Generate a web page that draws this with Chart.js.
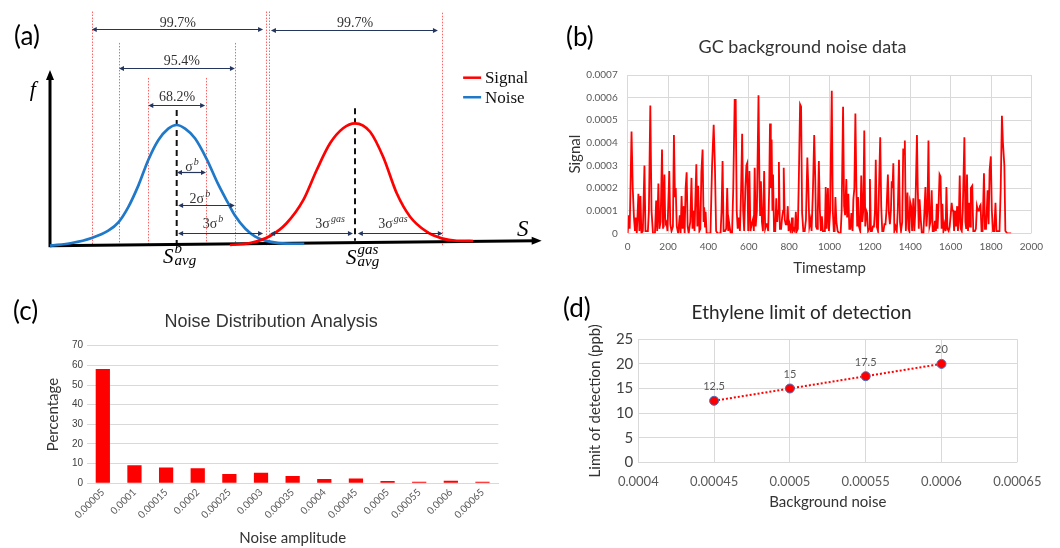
<!DOCTYPE html>
<html><head><meta charset="utf-8">
<script src="https://cdn.jsdelivr.net/npm/chart.js@4.4.1/dist/chart.umd.min.js"></script>
<style>
html,body{margin:0;padding:0;background:#fff;}
#wrap{position:relative;width:1060px;height:548px;overflow:hidden;background:#fff;}
canvas{position:absolute;}
.pl{position:absolute;font-family:Lato,'Liberation Sans',sans-serif;font-size:26px;line-height:26px;color:#000;}
</style></head><body>
<div id="wrap">
<canvas id="ca" width="550" height="280" style="left:0;top:0"></canvas>
<canvas id="cb" width="495" height="262" style="left:555px;top:28px"></canvas>
<canvas id="cc" width="540" height="258" style="left:0;top:290px"></canvas>
<canvas id="cd" width="505" height="258" style="left:561px;top:290px"></canvas>
<div class="pl" style="left:14px;top:22px">(a)</div>
<div class="pl" style="left:566px;top:23px">(b)</div>
<div class="pl" style="left:13px;top:297px">(c)</div>
<div class="pl" style="left:563px;top:294px">(d)</div>
</div>
<script>
// ---------- Panel (a): schematic distributions ----------
const noiseS = [-4.37,-3.62,-2.93,-2.36,-2.01,-1.67,-1.32,-0.98,-0.63,-0.29,0,0.29,0.63,1.03,1.43,1.78,2.01,2.37,2.71,3.06,3.52,4.19,4.4];
const noiseF = [0,0.022,0.064,0.125,0.194,0.32,0.50,0.71,0.875,0.97,1.0,0.97,0.89,0.72,0.51,0.35,0.25,0.14,0.075,0.042,0.022,0.016,0.016];
const signalS = [1.84,2.53,3.22,3.79,4.37,4.83,5.29,5.74,6.15,6.67,7.12,7.59,8.05,8.62,9.14,9.66,10.22];
const signalF = [0.006,0.022,0.08,0.186,0.379,0.627,0.848,0.973,1.014,0.944,0.737,0.434,0.24,0.116,0.061,0.041,0.039];
const meanS = [0, 6.15];
const meanTop = [1.124, 1.138];
const guideS = [-2.93,-1.99,-0.98,1.01,2.01,3.07,3.18,9.14];
const guideTop = [1.94,1.68,1.39,1.39,1.68,1.94,1.94,1.93];
const spanFrom = [-2.93,3.25,-1.99,-0.98,0.01,0.05,0.05,3.22,6.25];
const spanTo   = [2.98,9.01,2.01,0.98,1.01,2.01,2.98,6.08,9.18];
const spanAt   = [1.793,1.787,1.475,1.166,0.608,0.337,0.103,0.103,0.103];
const spanText = ['99.7%','99.7%','95.4%','68.2%','σ','2σ','3σ','3σ','3σ'];
const spanSup  = ['','','','','b','b','b','gas','gas'];
const spanTextS = [0.04,6.15,0.18,0.01,0.53,0.8,1.25,5.29,7.46];
const spanTextF = [1.848,1.848,1.533,1.24,0.66,0.395,0.188,0.19,0.19];
const legendNames = ['Signal','Noise'];

// ---------- Panel (b): GC background noise ----------
const bTimestamp = [
0,5,10,19,25,31,36,40,45,53,
58,63,68,75,83,88,100,105,112,118,
125,135,141,146,152,157,163,170,175,182,
186,192,197,206,211,217,224,229,234,238,
243,250,258,262,267,272,278,282,287,292,
297,302,310,316,321,326,331,340,345,349,
355,360,365,371,376,379,383,386,391,410,
418,426,432,438,445,460,465,470,475,482,
488,493,498,502,506,510,517,523,530,535,
540,545,550,556,562,567,572,577,583,588,
592,597,603,608,614,620,625,629,634,640,
648,653,656,660,665,670,676,681,687,691,
696,701,705,709,713,717,720,725,731,736,
741,745,749,754,760,765,770,773,778,783,
788,793,797,802,808,814,818,823,828,833,
838,843,848,854,859,864,870,877,883,890,
895,900,906,911,918,924,929,933,938,942,
947,952,957,962,967,972,977,981,986,992,
997,1003,1011,1016,1021,1025,1029,1034,1040,1047,
1055,1060,1067,1072,1077,1083,1087,1093,1098,1103,
1108,1114,1118,1123,1128,1133,1137,1141,1146,1152,
1157,1162,1167,1172,1177,1182,1186,1191,1196,1200,
1205,1210,1215,1220,1225,1229,1234,1240,1245,1251,
1256,1261,1267,1272,1277,1282,1289,1294,1299,1304,
1308,1312,1316,1321,1327,1333,1338,1344,1349,1354,
1360,1365,1369,1373,1378,1382,1386,1391,1395,1399,
1404,1409,1415,1420,1425,1433,1437,1442,1446,1452,
1457,1465,1470,1475,1480,1485,1490,1495,1500,1506,
1511,1517,1522,1527,1531,1535,1540,1545,1550,1555,
1559,1564,1570,1575,1579,1584,1590,1595,1600,1605,
1609,1613,1617,1622,1627,1632,1636,1640,1645,1650,
1655,1660,1668,1673,1677,1681,1686,1691,1696,1700,
1707,1712,1720,1725,1730,1735,1740,1745,1748,1753,
1758,1765,1770,1775,1779,1783,1788,1793,1799,1804,
1810,1816,1822,1827,1836,1842,1848,1854,1859,1866,
1871,1880,1900];
const bSignal = [
0,0.00008,0.00002,0.00045,0.0002,0.00007,0.00001,0.00007,0,0.000175,
0.00001,0.000165,0,0.00001,0.0003,0.00001,0.00001,0.0001,0.000565,0.0001,
0,0,0.000145,0.00001,0.00022,0.00002,0.00005,0.00037,0.00002,0.00026,
0.00004,0.00005,0.00001,0.000275,0.00004,0.00001,0.00003,0.000435,0.00016,0.0002,
0.00003,0,0.00008,0,0.000165,0.00002,0.00012,0,0.0002,0.00027,
0.00003,0,0.00005,0.000245,0.00002,0.0001,0.00001,0.000305,0.00003,0.00021,
0.00001,0.00002,0.00027,0.00037,0.00005,0.000115,0.00003,0.000095,0,0,
0.0003,0.00048,0.0003,0.00001,0,0,0.0001,0.00032,0.00001,0.00001,
0.00002,0.0002,0.00001,0.00005,0.00005,0,0,0.0002,0.00059,0.00059,
0.0001,0.00002,0.00007,0.00001,0.0002,0.00044,0.0001,0.00001,0.0002,0.0003,
0.00031,0.00001,0.000275,0.00001,0.00004,0.00006,0.00001,0.00029,0.00003,0.0001,
0.00061,0.0002,0.00008,0.00023,0.00005,0.00001,0.000275,0.00002,0.00004,0.00004,
0.00001,0.0002,0.000485,0.0002,0.000415,0.0001,0.00026,0.00001,0.00001,0.000155,
0.00005,0.0001,0.000315,0.00002,0.00002,0.00007,0.0001,0.00029,0.00006,0.00004,
0.00004,0.00012,0.00001,0.00004,0.00001,0.00007,0.00001,0.00002,0.00001,0.000095,
0.00001,0.00002,0.00025,0.00057,0.00056,0.00009,0.00001,0.00001,0.00006,0.000335,
0.0002,0.00003,0.00006,0.00001,0.0002,0.000435,0.00025,0.00003,0.00002,0.0001,
0.00032,0.0001,0.00001,0.000075,0.00001,0.00001,0.00001,0.000205,0.00002,0.0002,
0.00001,0.0001,0.00063,0.0001,0.00001,0.00001,0.00016,0.00005,0.00001,0,
0,0.0001,0.00056,0.00012,0.00008,0.00024,0.00007,0.000175,0.00002,0.00002,
0.00009,0.00001,0.00015,0.0002,0.00053,0.0002,0.00003,0.00016,0.00003,0.00001,
0.000255,0.00005,0.0001,0.000455,0.00003,0.0001,0.00009,0.00001,0.00002,0.00024,
0.00001,0.00001,0.00003,0.00003,0.0001,0.000325,0.00003,0.00001,0.0002,0.000425,
0.00012,0.00001,0.00001,0.00004,0.00004,0.0001,0.00026,0.00009,0.00004,0.0001,
0.00023,0.0002,0.00031,0.00001,0.00003,0.00001,0.0001,0.000325,0.00005,0.00001,
0.00005,0.000375,0.00035,0.00041,0.00001,0.0001,0.00018,0.00002,0.00001,0.00014,
0.00012,0.00001,0.000155,0.00001,0.0001,0.000435,0.0002,0.00002,0.00015,0.00006,
0,0,0.0001,0.000205,0.00003,0.0001,0.00041,0.00003,0.00005,0.00019,
0.00001,0.00001,0.000055,0.00001,0.00013,0.00002,0.00012,0.00026,0.00025,0.00002,
0.00013,0.00001,0.00004,0.00001,0.000205,0.00002,0.00001,0.00003,0.00008,0.000135,
0.0001,0.0001,0.00001,0.0001,0.00003,0.00012,0.00001,0.00005,0.000255,0.00002,
0.00001,0.0001,0.000425,0.00005,0.00002,0.00026,0.00001,0.000135,0.00003,0.0002,
0.00021,0.00001,0.00001,0.00002,0.00012,0.0001,0.0001,0.00012,0.000125,0.00001,
0.00001,0.000265,0.00002,0.00002,0.0001,0.00019,0.00004,0.00028,0.00034,0.0001,
0.00001,0.00001,0.000135,0.00001,0.00001,0.00001,0.0002,0.00052,0.0004,0.0003,
0.00001,0,0];
const bXTicks = ['0','200','400','600','800','1000','1200','1400','1600','1800','2000'];
const bYTicks = ['0','0.0001','0.0002','0.0003','0.0004','0.0005','0.0006','0.0007'];

// ---------- Panel (c): noise distribution ----------
const cAmplitude = ['0.00005','0.0001','0.00015','0.0002','0.00025','0.0003','0.00035','0.0004','0.00045','0.0005','0.00055','0.0006','0.00065'];
const cPercentage = [58.1,9.2,8.1,7.6,4.7,5.4,3.7,2.2,2.5,1.2,0.85,1.35,0.85];

// ---------- Panel (d): ethylene limit of detection ----------
const dNoise = [0.00045,0.0005,0.00055,0.0006];
const dLOD = [12.5,15,17.5,20];
const dPointLabels = ['12.5','15','17.5','20'];
const dXTicks = ['0.0004','0.00045','0.0005','0.00055','0.0006','0.00065'];

Chart.defaults.animation = false;
Chart.defaults.responsive = false;
Chart.defaults.maintainAspectRatio = false;
Chart.defaults.devicePixelRatio = 1;
Chart.defaults.plugins.legend.display = false;
Chart.defaults.plugins.tooltip.enabled = false;
Chart.defaults.font.family = 'Lato, sans-serif';

const SERIF = '"Liberation Serif", "Times New Roman", serif';
const NAVY = '#24355e';

function arrowHead(ctx, x, y, dir){
  ctx.beginPath();
  ctx.moveTo(x, y);
  ctx.lineTo(x - dir*5, y - 2.6);
  ctx.lineTo(x - dir*5, y + 2.6);
  ctx.closePath();
  ctx.fill();
}
function textSup(ctx, cx, cy, main, sup, size){
  ctx.font = size + 'px ' + SERIF;
  const w1 = ctx.measureText(main).width;
  let w2 = 0;
  const ss = Math.round(size*0.72);
  if (sup){ ctx.font = 'italic ' + ss + 'px ' + SERIF; w2 = ctx.measureText(sup).width + 1; }
  const x0 = cx - (w1 + w2)/2;
  ctx.textAlign = 'left'; ctx.textBaseline = 'alphabetic';
  ctx.font = size + 'px ' + SERIF;
  ctx.fillText(main, x0, cy + size*0.34);
  if (sup){ ctx.font = 'italic ' + ss + 'px ' + SERIF; ctx.fillText(sup, x0 + w1 + 1, cy + size*0.34 - size*0.42); }
}
function mathSym(ctx, xLeft, base, main, sup, sub){
  ctx.textAlign = 'left'; ctx.textBaseline = 'alphabetic';
  ctx.font = 'italic 21px ' + SERIF;
  ctx.fillText(main, xLeft, base);
  const w = ctx.measureText(main).width;
  ctx.font = 'italic 15px ' + SERIF;
  ctx.fillText(sup, xLeft + w + 1, base - 10);
  ctx.fillText(sub, xLeft + w + 1, base + 2);
}

const schematic = {
  id: 'schematic',
  beforeDatasetsDraw(chart){
    const {ctx, scales:{x, y}} = chart;
    const X = v => x.getPixelForValue(v), Y = v => y.getPixelForValue(v);
    ctx.save();
    ctx.strokeStyle = 'rgba(255,70,70,0.85)'; ctx.lineWidth = 1; ctx.setLineDash([1.5,1.5]);
    guideS.forEach((s,i) => { ctx.beginPath(); ctx.moveTo(Math.round(X(s))+0.5, Y(guideTop[i])); ctx.lineTo(Math.round(X(s))+0.5, Y(0)); ctx.stroke(); });
    ctx.strokeStyle = '#111'; ctx.lineWidth = 2; ctx.setLineDash([6,4]);
    meanS.forEach((s,i) => { ctx.beginPath(); ctx.moveTo(X(s), Y(meanTop[i])); ctx.lineTo(X(s), Y(i === 0 ? 0 : 0.04)); ctx.stroke(); });
    ctx.setLineDash([]);
    ctx.strokeStyle = '#000'; ctx.fillStyle = '#000'; ctx.lineWidth = 3;
    const x0 = X(x.min), y0 = Y(0), xe = X(x.max), ye = Y(0.041);
    ctx.beginPath(); ctx.moveTo(x0, y0); ctx.lineTo(xe - 6, ye); ctx.stroke();
    ctx.beginPath(); ctx.moveTo(xe, ye); ctx.lineTo(xe - 10, ye - 4); ctx.lineTo(xe - 10, ye + 4); ctx.closePath(); ctx.fill();
    const yt = Y(1.456);
    ctx.beginPath(); ctx.moveTo(x0, y0 + 1.5); ctx.lineTo(x0, yt + 6); ctx.stroke();
    ctx.beginPath(); ctx.moveTo(x0, yt); ctx.lineTo(x0 - 4, yt + 10); ctx.lineTo(x0 + 4, yt + 10); ctx.closePath(); ctx.fill();
    ctx.restore();
  },
  afterDatasetsDraw(chart){
    const {ctx, scales:{x, y}} = chart;
    const X = v => x.getPixelForValue(v), Y = v => y.getPixelForValue(v);
    ctx.save();
    ctx.strokeStyle = NAVY; ctx.fillStyle = NAVY; ctx.lineWidth = 1.2;
    spanFrom.forEach((s,i) => {
      const a = X(s), b = X(spanTo[i]), yy = Math.round(Y(spanAt[i])) + 0.5;
      ctx.beginPath(); ctx.moveTo(a + 3, yy); ctx.lineTo(b - 3, yy); ctx.stroke();
      arrowHead(ctx, a, yy, -1); arrowHead(ctx, b, yy, 1);
    });
    ctx.fillStyle = '#333';
    spanText.forEach((t,i) => textSup(ctx, X(spanTextS[i]), Y(spanTextF[i]), t, spanSup[i], 14));
    ctx.fillStyle = '#000';
    ctx.font = 'italic 22px ' + SERIF; ctx.textAlign = 'center'; ctx.textBaseline = 'middle';
    ctx.fillText('f', X(-4.96), Y(1.29));
    ctx.font = 'italic 23px ' + SERIF;
    ctx.fillText('S', X(11.94), Y(0.13));
    mathSym(ctx, X(-0.47), Y(-0.143), 'S', 'b', 'avg');
    mathSym(ctx, X(5.84), Y(-0.15), 'S', 'gas', 'avg');
    const cols = ['#ff0000', '#1f78c8'];
    const lf = [1.392, 1.23];
    legendNames.forEach((n,i) => {
      ctx.strokeStyle = cols[i]; ctx.lineWidth = 2.5;
      ctx.beginPath(); ctx.moveTo(X(9.88), Y(lf[i])); ctx.lineTo(X(10.5), Y(lf[i])); ctx.stroke();
      ctx.fillStyle = '#111'; ctx.font = '17px ' + SERIF; ctx.textAlign = 'left'; ctx.textBaseline = 'middle';
      ctx.fillText(n, X(10.63), Y(lf[i]) + 1);
    });
    ctx.restore();
  }
};

new Chart(document.getElementById('ca'), {
  type: 'line',
  data: { datasets: [
    { label: 'Signal', data: signalS.map((s,i) => ({x:s, y:signalF[i]})), borderColor: '#ff0000', borderWidth: 2.7, pointRadius: 0, cubicInterpolationMode: 'monotone', clip: false },
    { label: 'Noise', data: noiseS.map((s,i) => ({x:s, y:noiseF[i]})), borderColor: '#1f78c8', borderWidth: 2.7, pointRadius: 0, cubicInterpolationMode: 'monotone', clip: false }
  ]},
  options: {
    layout: { padding: { left: 50, right: 8.3, top: 4.3, bottom: 34.3 } },
    scales: {
      x: { type: 'linear', display: false, min: -4.37, max: 12.59 },
      y: { type: 'linear', display: false, min: 0, max: 2 }
    }
  },
  plugins: [schematic]
});

// Panel (b)
new Chart(document.getElementById('cb'), {
  type: 'line',
  data: { datasets: [{ data: bTimestamp.map((t,i) => ({x:t, y:bSignal[i]})), borderColor: '#ff0000', borderWidth: 1.8, pointRadius: 0, tension: 0 }] },
  options: {
    layout: { padding: { left: 11, right: 11, top: 0, bottom: 12.7 } },
    plugins: { title: { display: true, text: 'GC background noise data', color: '#333', font: { size: 18, weight: 'normal' }, padding: { top: 8.2, bottom: 17.2 } } },
    scales: {
      x: { type: 'linear', min: 0, max: 2000,
           ticks: { stepSize: 200, autoSkip: false, maxRotation: 0, color: '#595959', font: { size: 10 }, padding: 7, callback: (v,i) => bXTicks[i] },
           grid: { color: '#d9d9d9', drawTicks: false }, border: { display: false },
           title: { display: true, text: 'Timestamp', color: '#333', font: { size: 15 }, padding: 0 },
           afterFit(s){ s.height = 44; } },
      y: { min: 0, max: 0.0007,
           ticks: { stepSize: 0.0001, color: '#595959', font: { size: 10 }, padding: 10, callback: (v,i) => bYTicks[i] },
           grid: { color: '#d9d9d9', drawTicks: false }, border: { display: false },
           title: { display: true, text: 'Signal', color: '#333', font: { size: 15 }, padding: 0 },
           afterFit(s){ s.width = 61.7; } }
    }
  }
});

// Panel (c)
new Chart(document.getElementById('cc'), {
  type: 'bar',
  data: { labels: cAmplitude, datasets: [{ data: cPercentage, backgroundColor: '#ff0000', categoryPercentage: 1, barPercentage: 0.45 }] },
  options: {
    layout: { padding: { left: 44, right: 41.7, top: 0, bottom: 0.7 } },
    plugins: { title: { display: true, text: 'Noise Distribution Analysis', color: '#333', font: { family: '"Liberation Sans", Arial, sans-serif', size: 18, weight: 'normal' }, padding: { top: 20.9, bottom: 13.2 } } },
    scales: {
      x: { ticks: { autoSkip: false, minRotation: 45, maxRotation: 45, color: '#595959', font: { size: 10 }, padding: 3 },
           grid: { display: false, drawTicks: false }, border: { display: true, color: '#d9d9d9' },
           title: { display: true, text: 'Noise amplitude', color: '#333', font: { size: 15 }, padding: 0 },
           afterFit(s){ s.height = 64; } },
      y: { min: 0, max: 70,
           ticks: { stepSize: 10, color: '#404040', font: { family: '"Liberation Sans", Arial, sans-serif', size: 10 }, padding: 4 },
           grid: { color: '#d9d9d9', drawTicks: false }, border: { display: false },
           title: { display: true, text: 'Percentage', color: '#333', font: { size: 15 }, padding: 0 },
           afterFit(s){ s.width = 43; } }
    }
  }
});

// Panel (d)
const pointLabelPlugin = {
  id: 'pointLabels',
  afterDatasetsDraw(chart){
    const {ctx} = chart;
    const meta = chart.getDatasetMeta(0);
    ctx.save();
    ctx.fillStyle = '#595959'; ctx.font = '11px Lato, sans-serif'; ctx.textAlign = 'center'; ctx.textBaseline = 'middle';
    meta.data.forEach((pt,i) => ctx.fillText(dPointLabels[i], pt.x, pt.y - 14));
    ctx.restore();
  }
};
new Chart(document.getElementById('cd'), {
  type: 'line',
  data: { datasets: [{ data: dNoise.map((v,i) => ({x:v, y:dLOD[i]})), borderColor: '#ff0000', borderWidth: 2, borderDash: [2,2],
    pointRadius: 4.5, pointBackgroundColor: '#ff0000', pointBorderColor: '#4472c4', pointBorderWidth: 1, tension: 0 }] },
  options: {
    layout: { padding: { left: 25, right: 48.7, top: 0, bottom: 36.7 } },
    plugins: { title: { display: true, text: 'Ethylene limit of detection', color: '#262626', font: { size: 19, weight: 'normal' }, padding: { top: 11.3, bottom: 15.2 } } },
    scales: {
      x: { type: 'linear', min: 0.0004, max: 0.00065,
           ticks: { stepSize: 0.00005, autoSkip: false, maxRotation: 0, color: '#595959', font: { size: 13 }, padding: 12, callback: (v,i) => dXTicks[i] },
           grid: { color: '#d9d9d9', drawTicks: false }, border: { display: false },
           title: { display: true, text: 'Background noise', color: '#333', font: { size: 15 }, padding: 0 },
           afterFit(s){ s.height = 49; } },
      y: { min: 0, max: 25,
           ticks: { stepSize: 5, color: '#404040', font: { size: 15 }, padding: 5 },
           grid: { color: '#d9d9d9', drawTicks: false }, border: { display: false },
           title: { display: true, text: 'Limit of detection (ppb)', color: '#333', font: { size: 15 }, padding: 0 },
           afterFit(s){ s.width = 52.3; } }
    }
  },
  plugins: [pointLabelPlugin]
});
</script>
</body></html>
